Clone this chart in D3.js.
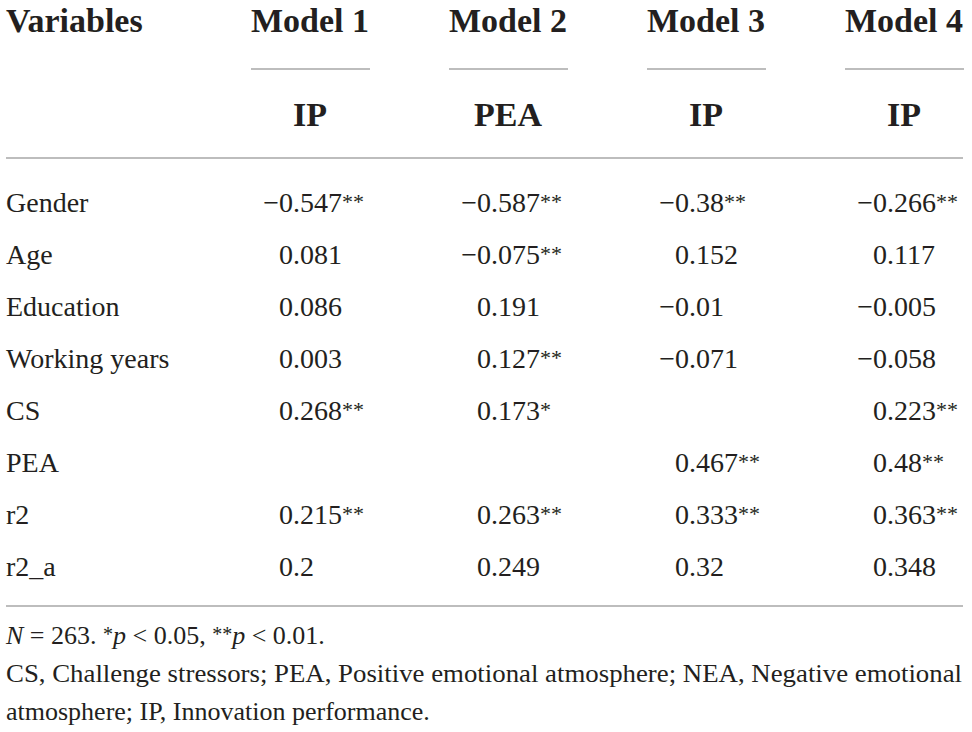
<!DOCTYPE html>
<html>
<head>
<meta charset="utf-8">
<script src="https://cdn.jsdelivr.net/npm/d3@7"></script>
</head>
<body style="margin:0;background:#fff">
<div id="table"></div>
<script>
var width = 972, height = 732;

// table content
var models = ["Model 1", "Model 2", "Model 3", "Model 4"];
var outcomes = ["IP", "PEA", "IP", "IP"];
var variables = ["Gender", "Age", "Education", "Working years", "CS", "PEA", "r2", "r2_a"];

var model1 = [-0.547, 0.081, 0.086, 0.003, 0.268, null, 0.215, 0.2];
var model2 = [-0.587, -0.075, 0.191, 0.127, 0.173, null, 0.263, 0.249];
var model3 = [-0.38, 0.152, -0.01, -0.071, null, 0.467, 0.333, 0.32];
var model4 = [-0.266, 0.117, -0.005, -0.058, 0.223, 0.48, 0.363, 0.348];

var sig1 = ["**", "", "", "", "**", "", "**", ""];
var sig2 = ["**", "**", "", "**", "*", "", "**", ""];
var sig3 = ["**", "", "", "", "", "**", "**", ""];
var sig4 = ["**", "", "", "", "**", "**", "**", ""];

var footLine2 = "CS, Challenge stressors; PEA, Positive emotional atmosphere; NEA, Negative emotional";
var footLine3 = "atmosphere; IP, Innovation performance.";

var values = [model1, model2, model3, model4];
var sigs = [sig1, sig2, sig3, sig4];

var fontStack = "'Liberation Serif', 'Times New Roman', Tinos, serif";
var ink = "#231f20";

var svg = d3.select("#table")
  .append("svg")
    .attr("width", width)
    .attr("height", height);

function addText(sel, size, bold) {
  return sel.append("text")
    .attr("font-family", fontStack)
    .style("font-family", fontStack)
    .attr("font-size", size)
    .attr("font-weight", bold ? "bold" : "normal")
    .attr("fill", ink);
}

// column centres and row baselines
var x = d3.scalePoint().domain(models).range([310, 904]);
var y = d3.scalePoint().domain(variables).range([212, 576]);
var left = 6, right = 963;
var lineColor = "#a7a7a7";

// header
addText(svg, 34, true)
  .attr("x", left).attr("y", 32)
  .text("Variables");

var head = svg.selectAll("g.head")
  .data(models)
  .enter().append("g")
    .attr("class", "head")
    .attr("transform", function(d) { return "translate(" + x(d) + ",0)"; });

addText(head, 34, true)
  .attr("y", 32)
  .attr("text-anchor", "middle")
  .text(function(d) { return d; });

head.append("line")
  .attr("x1", -59).attr("x2", 60)
  .attr("y1", 69).attr("y2", 69)
  .attr("stroke", lineColor).attr("stroke-width", 1.6);

addText(head, 34, true)
  .attr("y", 126)
  .attr("text-anchor", "middle")
  .text(function(d, i) { return outcomes[i]; });

// rules
[158, 606].forEach(function(ly) {
  svg.append("line")
    .attr("x1", left).attr("x2", right)
    .attr("y1", ly).attr("y2", ly)
    .attr("stroke", lineColor).attr("stroke-width", 1.6);
});

// row labels
addText(svg.selectAll("text.var").data(variables).enter(), 28, false)
    .attr("class", "var")
    .attr("x", left)
    .attr("y", function(d) { return y(d); })
    .text(function(d) { return d; });

// cells, aligned on the decimal point
function fmt(v) { return String(v).replace("-", "\u2212"); }

var cells = [];
models.forEach(function(m, c) {
  variables.forEach(function(v, r) {
    if (values[c][r] !== null) {
      cells.push({ model: m, variable: v, value: values[c][r], sig: sigs[c][r] });
    }
  });
});

var cell = svg.selectAll("g.cell")
  .data(cells)
  .enter().append("g")
    .attr("class", "cell")
    .attr("transform", function(d) { return "translate(" + (x(d.model) - 17) + "," + y(d.variable) + ")"; });

addText(cell, 28, false)
  .attr("text-anchor", "end")
  .text(function(d) { return fmt(d.value).split(".")[0]; });

var rest = addText(cell, 28, false)
  .attr("text-anchor", "start")
  .text(function(d) { return "." + fmt(d.value).split(".")[1]; });

rest.append("tspan")
  .attr("dy", -3)
  .attr("font-size", 22)
  .text(function(d) { return d.sig; });

// footnotes
var f1 = addText(svg, 26, false)
  .attr("x", left).attr("y", 644);
f1.append("tspan").attr("font-style", "italic").text("N");
f1.append("tspan").text(" = 263. ");
f1.append("tspan").attr("dy", -3).attr("font-size", 20).text("*");
f1.append("tspan").attr("dy", 3).attr("font-style", "italic").text("p");
f1.append("tspan").text(" < 0.05, ");
f1.append("tspan").attr("dy", -3).attr("font-size", 20).text("**");
f1.append("tspan").attr("dy", 3).attr("font-style", "italic").text("p");
f1.append("tspan").text(" < 0.01.");

addText(svg, 26, false)
  .attr("x", left).attr("y", 682)
  .attr("textLength", 956).attr("lengthAdjust", "spacingAndGlyphs")
  .text(footLine2);

addText(svg, 26, false)
  .attr("x", left).attr("y", 720)
  .text(footLine3);
</script>
</body>
</html>
